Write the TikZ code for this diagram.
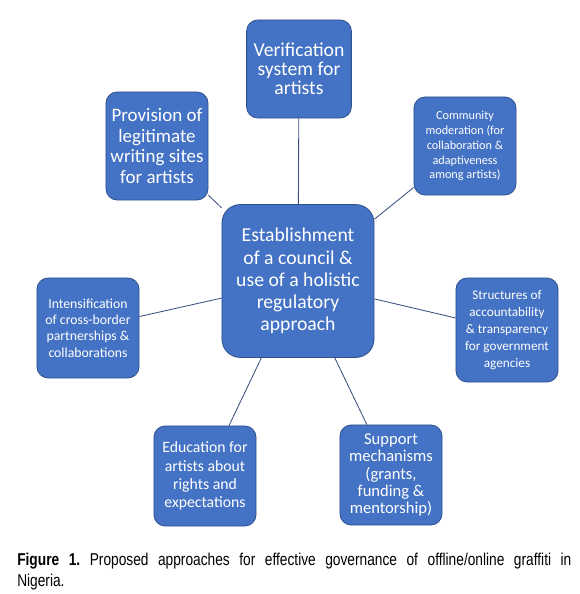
\documentclass[tikz,border=0pt]{standalone}
\usepackage{fontspec}
\usepackage{xcolor}
\usepackage{tikz}
\usetikzlibrary{positioning}
\setmainfont{Carlito}
\newfontfamily\capfont[FakeStretch=0.8]{Liberation Sans}
\definecolor{myblue}{RGB}{68,114,196}
\definecolor{myedge}{RGB}{47,82,143}
\definecolor{mylink}{RGB}{56,80,125}
\tikzset{
  block/.style={rectangle, draw=myedge, fill=myblue, text=white,
    minimum width=2.55cm, minimum height=2.5cm, align=center,
    rounded corners=8pt, line width=0.6pt, inner sep=1pt},
  hubblock/.style={block, minimum width=3.8cm, minimum height=3.82cm,
    rounded corners=13pt},
  link/.style={draw=mylink, line width=0.6pt}
}

\begin{document}
\frenchspacing
\begin{tikzpicture}[x=0.025cm, y=-0.025cm]
  \useasboundingbox (0,0) rectangle (580,594);

  % Nodes
  \node[hubblock, font=\fontsize{14}{15.8}\selectfont] (hub) at (298,281)
    {Establishment\\of a council \&\\use of a holistic\\regulatory\\approach};
  \node[block, minimum width=2.62cm, minimum height=2.45cm,
    font=\fontsize{14}{13.6}\selectfont] (verif) at (299,69)
    {Verification\\system for\\artists};
  \node[block, minimum height=2.7cm, font=\fontsize{13.5}{14.6}\selectfont] (sites) at (157,146)
    {Provision of\\legitimate\\writing sites\\for artists};
  \node[block, minimum height=2.45cm, font=\fontsize{8.7}{10.6}\selectfont] (moder) at (465,146)
    {Community\\moderation (for\\collaboration \&\\adaptiveness\\among artists)};
  \node[block, font=\fontsize{9.8}{11.7}\selectfont] (cross) at (88,328)
    {Intensification\\of cross-border\\partnerships \&\\collaborations};
  \node[block, minimum height=2.6cm, font=\fontsize{9.4}{12}\selectfont] (accnt) at (507,330)
    {Structures of\\accountability\\\& transparency\\for government\\agencies};
  \node[block, font=\fontsize{11.2}{13}\selectfont] (educ) at (205,476)
    {Education for\\artists about\\rights and\\expectations};
  \node[block, font=\fontsize{11.8}{12.2}\selectfont] (supp) at (391,475)
    {Support\\mechanisms\\(grants,\\funding \&\\mentorship)};

  % Links
  \foreach \n in {verif, sites, moder, cross, accnt, educ, supp}
    \draw[link] (hub) -- (\n);

  % Caption
  \node[anchor=north west, text width=13.85cm, align=justify, inner sep=0pt,
    font=\capfont\fontsize{12.2}{15}\selectfont] (capt) at (17,553)
    {\textbf{Figure 1.} Proposed approaches for effective governance of offline/online graffiti in\linebreak Nigeria.};
\end{tikzpicture}
\end{document}
